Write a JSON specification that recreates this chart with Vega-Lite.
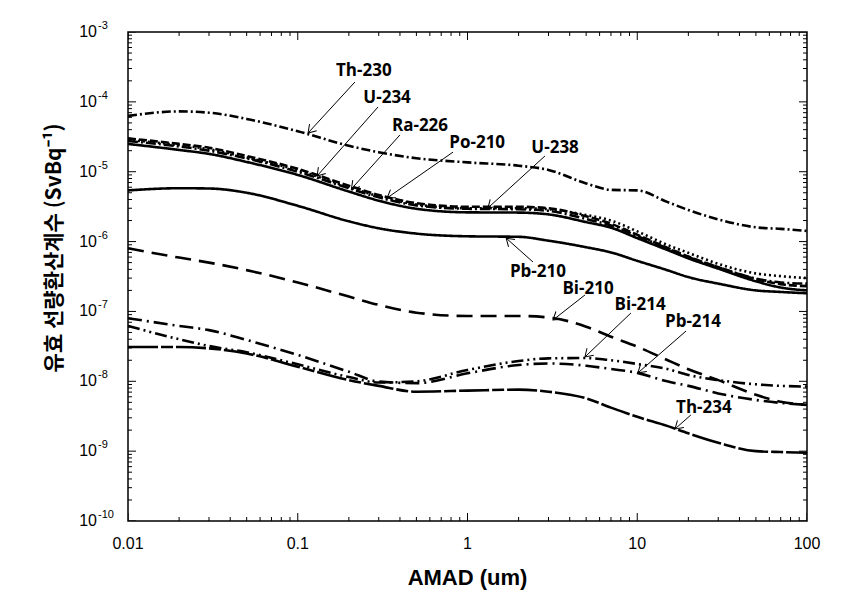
{
  "$schema": "https://vega.github.io/schema/vega-lite/v6.json",
  "width": 679,
  "height": 489,
  "autosize": {"type": "none"},
  "padding": {"left": 128, "top": 32, "right": 49, "bottom": 78},
  "config": {"view": {"stroke": "black", "strokeWidth": 1.5}, "background": "white"},
  "datasets": {
    "curves": [
      {"s":"Th-230","x":0.01,"y":6.3e-5},{"s":"Th-230","x":0.02,"y":7.3e-5},{"s":"Th-230","x":0.03,"y":7.0e-5},{"s":"Th-230","x":0.05,"y":5.7e-5},{"s":"Th-230","x":0.1,"y":3.8e-5},{"s":"Th-230","x":0.2,"y":2.35e-5},{"s":"Th-230","x":0.3,"y":1.9e-5},{"s":"Th-230","x":0.5,"y":1.56e-5},{"s":"Th-230","x":1,"y":1.36e-5},{"s":"Th-230","x":2,"y":1.22e-5},{"s":"Th-230","x":3,"y":1.06e-5},{"s":"Th-230","x":5,"y":6.8e-6},{"s":"Th-230","x":7,"y":5.5e-6},{"s":"Th-230","x":10,"y":5.4e-6},{"s":"Th-230","x":15,"y":3.7e-6},{"s":"Th-230","x":20,"y":2.83e-6},{"s":"Th-230","x":30,"y":2.08e-6},{"s":"Th-230","x":50,"y":1.6e-6},{"s":"Th-230","x":70,"y":1.52e-6},{"s":"Th-230","x":100,"y":1.42e-6},
      {"s":"U-234","x":0.01,"y":3.0e-5},{"s":"U-234","x":0.02,"y":2.5e-5},{"s":"U-234","x":0.03,"y":2.2e-5},{"s":"U-234","x":0.05,"y":1.68e-5},{"s":"U-234","x":0.1,"y":1.1e-5},{"s":"U-234","x":0.2,"y":6.3e-6},{"s":"U-234","x":0.3,"y":4.65e-6},{"s":"U-234","x":0.5,"y":3.55e-6},{"s":"U-234","x":1,"y":3.15e-6},{"s":"U-234","x":2,"y":3.15e-6},{"s":"U-234","x":3,"y":3.0e-6},{"s":"U-234","x":5,"y":2.3e-6},{"s":"U-234","x":7,"y":1.8e-6},{"s":"U-234","x":10,"y":1.25e-6},{"s":"U-234","x":15,"y":8.2e-7},{"s":"U-234","x":20,"y":6.1e-7},{"s":"U-234","x":30,"y":4.3e-7},{"s":"U-234","x":50,"y":2.9e-7},{"s":"U-234","x":70,"y":2.45e-7},{"s":"U-234","x":100,"y":2.3e-7},
      {"s":"Ra-226","x":0.01,"y":2.85e-5},{"s":"Ra-226","x":0.02,"y":2.4e-5},{"s":"Ra-226","x":0.03,"y":2.1e-5},{"s":"Ra-226","x":0.05,"y":1.6e-5},{"s":"Ra-226","x":0.1,"y":1.05e-5},{"s":"Ra-226","x":0.2,"y":6.0e-6},{"s":"Ra-226","x":0.3,"y":4.45e-6},{"s":"Ra-226","x":0.5,"y":3.4e-6},{"s":"Ra-226","x":1,"y":3.0e-6},{"s":"Ra-226","x":2,"y":3.0e-6},{"s":"Ra-226","x":3,"y":2.9e-6},{"s":"Ra-226","x":5,"y":2.4e-6},{"s":"Ra-226","x":7,"y":2.0e-6},{"s":"Ra-226","x":10,"y":1.4e-6},{"s":"Ra-226","x":15,"y":9.0e-7},{"s":"Ra-226","x":20,"y":6.9e-7},{"s":"Ra-226","x":30,"y":4.8e-7},{"s":"Ra-226","x":50,"y":3.5e-7},{"s":"Ra-226","x":70,"y":3.2e-7},{"s":"Ra-226","x":100,"y":3.0e-7},
      {"s":"Po-210","x":0.01,"y":2.75e-5},{"s":"Po-210","x":0.02,"y":2.3e-5},{"s":"Po-210","x":0.03,"y":2.0e-5},{"s":"Po-210","x":0.05,"y":1.55e-5},{"s":"Po-210","x":0.1,"y":1.0e-5},{"s":"Po-210","x":0.2,"y":5.8e-6},{"s":"Po-210","x":0.3,"y":4.3e-6},{"s":"Po-210","x":0.5,"y":3.3e-6},{"s":"Po-210","x":1,"y":2.95e-6},{"s":"Po-210","x":2,"y":2.9e-6},{"s":"Po-210","x":3,"y":2.75e-6},{"s":"Po-210","x":5,"y":2.1e-6},{"s":"Po-210","x":7,"y":1.7e-6},{"s":"Po-210","x":10,"y":1.2e-6},{"s":"Po-210","x":15,"y":8.0e-7},{"s":"Po-210","x":20,"y":6.0e-7},{"s":"Po-210","x":30,"y":4.3e-7},{"s":"Po-210","x":50,"y":2.95e-7},{"s":"Po-210","x":70,"y":2.6e-7},{"s":"Po-210","x":100,"y":2.5e-7},
      {"s":"U-238","x":0.01,"y":2.5e-5},{"s":"U-238","x":0.02,"y":2.05e-5},{"s":"U-238","x":0.03,"y":1.8e-5},{"s":"U-238","x":0.05,"y":1.38e-5},{"s":"U-238","x":0.1,"y":9.0e-6},{"s":"U-238","x":0.2,"y":5.2e-6},{"s":"U-238","x":0.3,"y":3.85e-6},{"s":"U-238","x":0.5,"y":2.95e-6},{"s":"U-238","x":1,"y":2.62e-6},{"s":"U-238","x":2,"y":2.6e-6},{"s":"U-238","x":3,"y":2.45e-6},{"s":"U-238","x":5,"y":1.9e-6},{"s":"U-238","x":7,"y":1.58e-6},{"s":"U-238","x":10,"y":1.12e-6},{"s":"U-238","x":15,"y":7.6e-7},{"s":"U-238","x":20,"y":5.75e-7},{"s":"U-238","x":30,"y":4.1e-7},{"s":"U-238","x":50,"y":2.7e-7},{"s":"U-238","x":70,"y":2.2e-7},{"s":"U-238","x":100,"y":2.0e-7},
      {"s":"Pb-210","x":0.01,"y":5.4e-6},{"s":"Pb-210","x":0.02,"y":5.8e-6},{"s":"Pb-210","x":0.03,"y":5.75e-6},{"s":"Pb-210","x":0.05,"y":5.0e-6},{"s":"Pb-210","x":0.1,"y":3.25e-6},{"s":"Pb-210","x":0.2,"y":1.95e-6},{"s":"Pb-210","x":0.3,"y":1.55e-6},{"s":"Pb-210","x":0.5,"y":1.3e-6},{"s":"Pb-210","x":1,"y":1.19e-6},{"s":"Pb-210","x":2,"y":1.17e-6},{"s":"Pb-210","x":3,"y":1.03e-6},{"s":"Pb-210","x":5,"y":8.3e-7},{"s":"Pb-210","x":7,"y":7.0e-7},{"s":"Pb-210","x":10,"y":5.3e-7},{"s":"Pb-210","x":15,"y":3.9e-7},{"s":"Pb-210","x":20,"y":3.1e-7},{"s":"Pb-210","x":30,"y":2.5e-7},{"s":"Pb-210","x":50,"y":2.0e-7},{"s":"Pb-210","x":70,"y":1.9e-7},{"s":"Pb-210","x":100,"y":1.82e-7},
      {"s":"Bi-210","x":0.01,"y":8.0e-7},{"s":"Bi-210","x":0.02,"y":5.9e-7},{"s":"Bi-210","x":0.03,"y":5.0e-7},{"s":"Bi-210","x":0.05,"y":3.9e-7},{"s":"Bi-210","x":0.1,"y":2.6e-7},{"s":"Bi-210","x":0.2,"y":1.63e-7},{"s":"Bi-210","x":0.3,"y":1.24e-7},{"s":"Bi-210","x":0.5,"y":9.6e-8},{"s":"Bi-210","x":1,"y":8.6e-8},{"s":"Bi-210","x":2,"y":8.6e-8},{"s":"Bi-210","x":3,"y":8.2e-8},{"s":"Bi-210","x":5,"y":6.05e-8},{"s":"Bi-210","x":7,"y":4.35e-8},{"s":"Bi-210","x":10,"y":3.13e-8},{"s":"Bi-210","x":15,"y":2.02e-8},{"s":"Bi-210","x":20,"y":1.49e-8},{"s":"Bi-210","x":30,"y":1.04e-8},{"s":"Bi-210","x":50,"y":6.4e-9},{"s":"Bi-210","x":70,"y":5.1e-9},{"s":"Bi-210","x":100,"y":4.6e-9},
      {"s":"Bi-214","x":0.01,"y":6.2e-8},{"s":"Bi-214","x":0.02,"y":4.0e-8},{"s":"Bi-214","x":0.03,"y":3.2e-8},{"s":"Bi-214","x":0.05,"y":2.6e-8},{"s":"Bi-214","x":0.1,"y":1.75e-8},{"s":"Bi-214","x":0.2,"y":1.15e-8},{"s":"Bi-214","x":0.3,"y":9.6e-9},{"s":"Bi-214","x":0.5,"y":1.0e-8},{"s":"Bi-214","x":1,"y":1.45e-8},{"s":"Bi-214","x":2,"y":1.95e-8},{"s":"Bi-214","x":3,"y":2.13e-8},{"s":"Bi-214","x":5,"y":2.15e-8},{"s":"Bi-214","x":7,"y":2.0e-8},{"s":"Bi-214","x":10,"y":1.77e-8},{"s":"Bi-214","x":15,"y":1.5e-8},{"s":"Bi-214","x":20,"y":1.23e-8},{"s":"Bi-214","x":30,"y":1.04e-8},{"s":"Bi-214","x":50,"y":9.05e-9},{"s":"Bi-214","x":70,"y":8.6e-9},{"s":"Bi-214","x":100,"y":8.4e-9},
      {"s":"Pb-214","x":0.01,"y":8.0e-8},{"s":"Pb-214","x":0.02,"y":6.2e-8},{"s":"Pb-214","x":0.03,"y":5.4e-8},{"s":"Pb-214","x":0.05,"y":3.9e-8},{"s":"Pb-214","x":0.1,"y":2.38e-8},{"s":"Pb-214","x":0.2,"y":1.37e-8},{"s":"Pb-214","x":0.3,"y":9.9e-9},{"s":"Pb-214","x":0.5,"y":9.4e-9},{"s":"Pb-214","x":1,"y":1.3e-8},{"s":"Pb-214","x":2,"y":1.71e-8},{"s":"Pb-214","x":3,"y":1.8e-8},{"s":"Pb-214","x":5,"y":1.67e-8},{"s":"Pb-214","x":7,"y":1.5e-8},{"s":"Pb-214","x":10,"y":1.32e-8},{"s":"Pb-214","x":15,"y":1.0e-8},{"s":"Pb-214","x":20,"y":8.6e-9},{"s":"Pb-214","x":30,"y":6.7e-9},{"s":"Pb-214","x":50,"y":5.4e-9},{"s":"Pb-214","x":70,"y":4.9e-9},{"s":"Pb-214","x":100,"y":4.6e-9},
      {"s":"Th-234","x":0.01,"y":3.1e-8},{"s":"Th-234","x":0.02,"y":3.1e-8},{"s":"Th-234","x":0.03,"y":2.96e-8},{"s":"Th-234","x":0.05,"y":2.5e-8},{"s":"Th-234","x":0.1,"y":1.62e-8},{"s":"Th-234","x":0.2,"y":1.04e-8},{"s":"Th-234","x":0.3,"y":8.6e-9},{"s":"Th-234","x":0.5,"y":7.1e-9},{"s":"Th-234","x":1,"y":7.35e-9},{"s":"Th-234","x":2,"y":7.6e-9},{"s":"Th-234","x":3,"y":7.1e-9},{"s":"Th-234","x":5,"y":5.7e-9},{"s":"Th-234","x":7,"y":4.2e-9},{"s":"Th-234","x":10,"y":3.1e-9},{"s":"Th-234","x":15,"y":2.3e-9},{"s":"Th-234","x":20,"y":1.8e-9},{"s":"Th-234","x":30,"y":1.32e-9},{"s":"Th-234","x":50,"y":1.0e-9},{"s":"Th-234","x":70,"y":9.7e-10},{"s":"Th-234","x":100,"y":9.5e-10}
    ],
    "notes": [
      {"name":"Th-230","lx":0.245,"ly":2.77e-4,"ax1":0.217,"ay1":1.92e-4,"ax2":0.115,"ay2":3.58e-5},
      {"name":"U-234","lx":0.336,"ly":1.135e-4,"ax1":0.297,"ay1":8.44e-5,"ax2":0.130,"ay2":8.69e-6},
      {"name":"Ra-226","lx":0.525,"ly":4.51e-5,"ax1":0.400,"ay1":3.36e-5,"ax2":0.207,"ay2":5.66e-6},
      {"name":"Po-210","lx":1.14,"ly":2.58e-5,"ax1":0.822,"ay1":1.91e-5,"ax2":0.336,"ay2":4.21e-6},
      {"name":"U-238","lx":3.28,"ly":2.19e-5,"ax1":2.86,"ay1":1.68e-5,"ax2":1.32,"ay2":3.03e-6},
      {"name":"Pb-210","lx":2.60,"ly":3.67e-7,"ax1":2.43,"ay1":5.1e-7,"ax2":1.69,"ay2":1.12e-6},
      {"name":"Bi-210","lx":5.13,"ly":2.1e-7,"ax1":4.92,"ay1":1.72e-7,"ax2":3.19,"ay2":7.54e-8},
      {"name":"Bi-214","lx":10.4,"ly":1.24e-7,"ax1":9.18,"ay1":9.5e-8,"ax2":4.92,"ay2":2.23e-8},
      {"name":"Pb-214","lx":21.3,"ly":7.06e-8,"ax1":19.4,"ay1":5.25e-8,"ax2":10.1,"ay2":1.32e-8},
      {"name":"Th-234","lx":24.7,"ly":4.15e-9,"ax1":20.7,"ay1":3.3e-9,"ax2":16.7,"ay2":2.08e-9}
    ],
    "xticks": [
      {"v":0.01,"major":true},{"v":0.02,"major":false},{"v":0.03,"major":false},{"v":0.04,"major":false},{"v":0.05,"major":false},{"v":0.06,"major":false},{"v":0.07,"major":false},{"v":0.08,"major":false},{"v":0.09,"major":false},
      {"v":0.1,"major":true},{"v":0.2,"major":false},{"v":0.3,"major":false},{"v":0.4,"major":false},{"v":0.5,"major":false},{"v":0.6,"major":false},{"v":0.7,"major":false},{"v":0.8,"major":false},{"v":0.9,"major":false},
      {"v":1,"major":true},{"v":2,"major":false},{"v":3,"major":false},{"v":4,"major":false},{"v":5,"major":false},{"v":6,"major":false},{"v":7,"major":false},{"v":8,"major":false},{"v":9,"major":false},
      {"v":10,"major":true},{"v":20,"major":false},{"v":30,"major":false},{"v":40,"major":false},{"v":50,"major":false},{"v":60,"major":false},{"v":70,"major":false},{"v":80,"major":false},{"v":90,"major":false},
      {"v":100,"major":true}
    ],
    "yticks": [
      {"v":1e-10,"major":true},{"v":2e-10,"major":false},{"v":3e-10,"major":false},{"v":4e-10,"major":false},{"v":5e-10,"major":false},{"v":6e-10,"major":false},{"v":7e-10,"major":false},{"v":8e-10,"major":false},{"v":9e-10,"major":false},
      {"v":1e-9,"major":true},{"v":2e-9,"major":false},{"v":3e-9,"major":false},{"v":4e-9,"major":false},{"v":5e-9,"major":false},{"v":6e-9,"major":false},{"v":7e-9,"major":false},{"v":8e-9,"major":false},{"v":9e-9,"major":false},
      {"v":1e-8,"major":true},{"v":2e-8,"major":false},{"v":3e-8,"major":false},{"v":4e-8,"major":false},{"v":5e-8,"major":false},{"v":6e-8,"major":false},{"v":7e-8,"major":false},{"v":8e-8,"major":false},{"v":9e-8,"major":false},
      {"v":1e-7,"major":true},{"v":2e-7,"major":false},{"v":3e-7,"major":false},{"v":4e-7,"major":false},{"v":5e-7,"major":false},{"v":6e-7,"major":false},{"v":7e-7,"major":false},{"v":8e-7,"major":false},{"v":9e-7,"major":false},
      {"v":1e-6,"major":true},{"v":2e-6,"major":false},{"v":3e-6,"major":false},{"v":4e-6,"major":false},{"v":5e-6,"major":false},{"v":6e-6,"major":false},{"v":7e-6,"major":false},{"v":8e-6,"major":false},{"v":9e-6,"major":false},
      {"v":1e-5,"major":true},{"v":2e-5,"major":false},{"v":3e-5,"major":false},{"v":4e-5,"major":false},{"v":5e-5,"major":false},{"v":6e-5,"major":false},{"v":7e-5,"major":false},{"v":8e-5,"major":false},{"v":9e-5,"major":false},
      {"v":1e-4,"major":true},{"v":2e-4,"major":false},{"v":3e-4,"major":false},{"v":4e-4,"major":false},{"v":5e-4,"major":false},{"v":6e-4,"major":false},{"v":7e-4,"major":false},{"v":8e-4,"major":false},{"v":9e-4,"major":false},
      {"v":1e-3,"major":true}
    ],
    "titles": [{"xt": "AMAD (um)", "yt": "유효 선량환산계수 (SvBq⁻¹)"}]
  },
  "layer": [
    {
      "data": {"name": "curves"},
      "mark": {"type": "line", "color": "black", "strokeWidth": 2.6, "interpolate": "monotone"},
      "encoding": {
        "x": {"field": "x", "type": "quantitative", "scale": {"type": "log", "domain": [0.01, 100], "nice": false}, "axis": null},
        "y": {"field": "y", "type": "quantitative", "scale": {"type": "log", "domain": [1e-10, 1e-3], "nice": false}, "axis": null},
        "strokeDash": {"field": "s", "type": "nominal", "legend": null,
          "scale": {"domain": ["Th-230","U-234","Ra-226","Po-210","U-238","Pb-210","Bi-210","Bi-214","Pb-214","Th-234"],
            "range": [[9,3,2,3],[8,3],[2,3],[10,3,2,3],[1,0],[1,0],[16,8],[12,4,2,4,2,4],[14,5,2,5],[30,3,12,3]]}}
      }
    },
    {
      "data": {"name": "xticks"},
      "mark": {"type": "tick", "orient": "vertical", "thickness": 1, "color": "black", "opacity": 1, "clip": true},
      "encoding": {
        "x": {"field": "v", "type": "quantitative", "axis": null},
        "y": {"datum": 1e-10, "type": "quantitative", "axis": null},
        "size": {"condition": {"test": "datum.major", "value": 16}, "value": 8}
      }
    },
    {
      "data": {"name": "xticks"},
      "mark": {"type": "tick", "orient": "vertical", "thickness": 1, "color": "black", "opacity": 1, "clip": true},
      "encoding": {
        "x": {"field": "v", "type": "quantitative", "axis": null},
        "y": {"datum": 1e-3, "type": "quantitative", "axis": null},
        "size": {"condition": {"test": "datum.major", "value": 16}, "value": 8}
      }
    },
    {
      "data": {"name": "yticks"},
      "mark": {"type": "tick", "orient": "horizontal", "thickness": 1, "color": "black", "opacity": 1, "clip": true},
      "encoding": {
        "y": {"field": "v", "type": "quantitative", "axis": null},
        "x": {"datum": 0.01, "type": "quantitative", "axis": null},
        "size": {"condition": {"test": "datum.major", "value": 16}, "value": 8}
      }
    },
    {
      "data": {"name": "yticks"},
      "mark": {"type": "tick", "orient": "horizontal", "thickness": 1, "color": "black", "opacity": 1, "clip": true},
      "encoding": {
        "y": {"field": "v", "type": "quantitative", "axis": null},
        "x": {"datum": 100, "type": "quantitative", "axis": null},
        "size": {"condition": {"test": "datum.major", "value": 16}, "value": 8}
      }
    },
    {
      "data": {"name": "xticks"},
      "transform": [{"filter": "datum.major"}],
      "mark": {"type": "text", "font": "Liberation Sans", "fontSize": 16, "color": "black", "align": "center", "baseline": "top", "dy": 15},
      "encoding": {
        "x": {"field": "v", "type": "quantitative", "axis": null},
        "y": {"datum": 1e-10, "type": "quantitative", "axis": null},
        "text": {"field": "v", "type": "quantitative", "format": "~g"}
      }
    },
    {
      "data": {"name": "yticks"},
      "transform": [{"filter": "datum.major"}],
      "mark": {"type": "text", "font": "Liberation Sans", "fontSize": 16, "color": "black", "align": "right", "baseline": "middle", "dx": -31},
      "encoding": {
        "y": {"field": "v", "type": "quantitative", "axis": null},
        "x": {"datum": 0.01, "type": "quantitative", "axis": null},
        "text": {"value": "10"}
      }
    },
    {
      "data": {"name": "yticks"},
      "transform": [{"filter": "datum.major"}, {"calculate": "'' + round(log(datum.v) / LN10)", "as": "ex"}],
      "mark": {"type": "text", "font": "Liberation Sans", "fontSize": 11, "color": "black", "align": "left", "baseline": "middle", "dx": -30, "dy": -6},
      "encoding": {
        "y": {"field": "v", "type": "quantitative", "axis": null},
        "x": {"datum": 0.01, "type": "quantitative", "axis": null},
        "text": {"field": "ex", "type": "nominal"}
      }
    },
    {
      "data": {"name": "titles"},
      "mark": {"type": "text", "font": "Liberation Sans", "fontSize": 22, "fontWeight": "bold", "color": "black", "align": "center", "baseline": "middle", "dy": 57},
      "encoding": {
        "x": {"datum": 1, "type": "quantitative", "axis": null},
        "y": {"datum": 1e-10, "type": "quantitative", "axis": null},
        "text": {"field": "xt", "type": "nominal"}
      }
    },
    {
      "data": {"name": "titles"},
      "mark": {"type": "text", "font": "Noto Sans CJK KR", "fontSize": 21, "fontWeight": "bold", "color": "black", "align": "center", "baseline": "middle", "angle": 270, "dy": -73},
      "encoding": {
        "x": {"datum": 0.01, "type": "quantitative", "axis": null},
        "y": {"datum": 8.1e-7, "type": "quantitative", "axis": null},
        "text": {"field": "yt", "type": "nominal"}
      }
    },
    {
      "data": {"name": "notes"},
      "mark": {"type": "rule", "color": "black", "strokeWidth": 1},
      "encoding": {
        "x": {"field": "ax1", "type": "quantitative", "axis": null},
        "y": {"field": "ay1", "type": "quantitative", "axis": null},
        "x2": {"field": "ax2"},
        "y2": {"field": "ay2"}
      }
    },
    {
      "data": {"name": "notes"},
      "mark": {"type": "point", "shape": "M -1 -0.65 L 0 0 L -1 0.65", "filled": false, "stroke": "black", "strokeWidth": 1, "size": 225, "opacity": 1,
        "angle": {"expr": "(atan2(scale('y', datum.ay2) - scale('y', datum.ay1), scale('x', datum.ax2) - scale('x', datum.ax1)) * 180 / PI + 360) % 360"}},
      "encoding": {
        "x": {"field": "ax2", "type": "quantitative", "axis": null},
        "y": {"field": "ay2", "type": "quantitative", "axis": null}
      }
    },
    {
      "data": {"name": "notes"},
      "mark": {"type": "text", "font": "Open Sans", "fontSize": 17, "fontWeight": "bold", "color": "black", "align": "center", "baseline": "middle"},
      "encoding": {
        "x": {"field": "lx", "type": "quantitative", "axis": null},
        "y": {"field": "ly", "type": "quantitative", "axis": null},
        "text": {"field": "name"}
      }
    }
  ]
}
